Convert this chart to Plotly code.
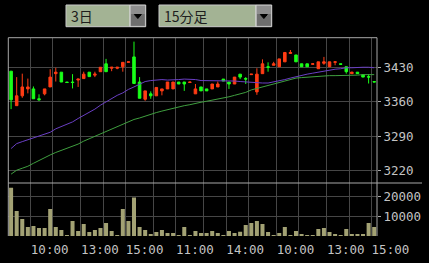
import plotly.graph_objects as go

W, H = 429, 263

# ---- data (15-minute bars, 3 days, 22 bars per day) ----
opens = [3422, 3352, 3372, 3386, 3386, 3366, 3376, 3390, 3417, 3420, 3400, 3400, 3404, 3407, 3420, 3414, 3421, 3437, 3428, 3428, 3431, 3440,
         3451, 3400, 3365, 3376, 3372, 3382, 3386, 3386, 3400, 3400, 3399, 3376, 3390, 3386, 3386, 3390, 3406, 3400, 3396, 3416, 3407, 3415,
         3380, 3417, 3431, 3434, 3431, 3441, 3458, 3455, 3437, 3437, 3436, 3427, 3438, 3431, 3440, 3437, 3431, 3417, 3420, 3415, 3411, 3401]
highs = [3422, 3410, 3417, 3407, 3391, 3375, 3386, 3426, 3429, 3420, 3400, 3416, 3406, 3421, 3420, 3421, 3430, 3447, 3430, 3430, 3440, 3441,
         3482, 3410, 3382, 3381, 3389, 3386, 3400, 3400, 3400, 3400, 3400, 3396, 3390, 3386, 3396, 3401, 3406, 3400, 3410, 3416, 3410, 3416,
         3428, 3446, 3440, 3441, 3447, 3461, 3465, 3455, 3437, 3437, 3437, 3441, 3451, 3441, 3441, 3437, 3431, 3421, 3420, 3415, 3416, 3401]
lows = [3345, 3352, 3368, 3377, 3366, 3362, 3373, 3390, 3401, 3400, 3399, 3387, 3390, 3407, 3411, 3410, 3421, 3421, 3422, 3426, 3421, 3440,
        3397, 3367, 3362, 3366, 3372, 3373, 3386, 3386, 3396, 3382, 3399, 3376, 3382, 3382, 3386, 3390, 3402, 3386, 3396, 3406, 3396, 3415,
        3374, 3417, 3421, 3434, 3431, 3441, 3458, 3441, 3431, 3431, 3436, 3427, 3435, 3431, 3434, 3436, 3417, 3417, 3417, 3410, 3397, 3400]
closes = [3364, 3372, 3390, 3390, 3366, 3364, 3386, 3410, 3420, 3400, 3399, 3399, 3406, 3416, 3411, 3416, 3430, 3421, 3430, 3430, 3440, 3441,
          3397, 3367, 3382, 3372, 3389, 3386, 3400, 3400, 3396, 3396, 3400, 3386, 3382, 3382, 3396, 3396, 3402, 3396, 3410, 3410, 3406, 3416,
          3416, 3437, 3430, 3437, 3447, 3460, 3460, 3441, 3431, 3431, 3437, 3441, 3441, 3441, 3441, 3436, 3421, 3420, 3417, 3410, 3410, 3400]
ma_short = [3265, 3275, 3279, 3283, 3286, 3290, 3294, 3298, 3305, 3310, 3314, 3319, 3326, 3332, 3338, 3345, 3353, 3360, 3367, 3373, 3378, 3385,
            3390, 3396, 3401, 3403, 3404, 3405, 3404, 3404, 3405, 3406, 3406, 3405, 3403, 3403, 3402, 3402, 3402, 3402, 3402, 3401, 3400, 3399,
            3398, 3398, 3398, 3400, 3402, 3405, 3408, 3411, 3414, 3416, 3418, 3420, 3423, 3424, 3426, 3427, 3429, 3429, 3430, 3430, 3430, 3429]
ma_long = [3213, 3221, 3225, 3229, 3235, 3241, 3246, 3252, 3257, 3261, 3266, 3270, 3274, 3280, 3285, 3290, 3294, 3299, 3304, 3309, 3314, 3319,
           3324, 3327, 3331, 3334, 3338, 3341, 3344, 3347, 3350, 3352, 3354, 3357, 3359, 3361, 3363, 3365, 3367, 3370, 3373, 3376, 3379, 3384,
           3387, 3390, 3393, 3396, 3400, 3403, 3406, 3408, 3409, 3410, 3411, 3412, 3413, 3413, 3413, 3413, 3413, 3414, 3414, 3415, 3415, 3415]
volumes = [24500, 12700, 8600, 4600, 5100, 4100, 4100, 13700, 4600, 3000, 300, 7600, 2500, 6100, 2000, 3000, 4100, 6600, 2500, 500, 13700, 7600,
           19500, 4600, 3000, 1000, 2000, 3000, 1500, 1500, 200, 4600, 200, 2500, 1500, 1500, 2500, 1500, 500, 2500, 1500, 2200, 5600, 6600,
           7600, 6100, 2000, 500, 1500, 4600, 500, 2500, 1000, 500, 200, 3600, 4100, 2000, 1000, 500, 3600, 1000, 1000, 1000, 6600, 4600]
bar_index = list(range(len(opens)))

grid_slots = [4, 8, 13, 17, 21, 26, 30, 35, 39, 43, 48, 52, 57, 61, 65]
grid_text = ["10:00", "", "13:00", "", "15:00", "", "11:00", "", "14:00", "", "10:00", "", "13:00", "", "15:00"]
price_ticks = [3220, 3290, 3360, 3430]
vol_ticks = [10000, 20000]
period_label = "3日"
interval_label = "15分足"

# ---- helpers for pixel -> paper ----
def px(x):
    return x / W

def py(y):
    return 1 - y / H

X0, X1 = 8.3, 377.0
P_TOP, P_BOT = 37.7, 183.0
V_BOT = 236.0

RED = "#ff3c14"
GREEN = "#19ff19"
GRID = "#464646"
FRAME = "#a8a8a8"
TXT = "#c4c4c4"
FONT = dict(family="DejaVu Sans Mono", size=12.5, color=TXT)

fig = go.Figure()

fig.add_trace(go.Scatter(x=bar_index, y=ma_long, mode="lines", line=dict(color="#3f9f3f", width=1),
                         xaxis="x", yaxis="y", hoverinfo="skip"))
fig.add_trace(go.Scatter(x=bar_index, y=ma_short, mode="lines", line=dict(color="#6a3fc4", width=1),
                         xaxis="x", yaxis="y", hoverinfo="skip"))
fig.add_trace(go.Candlestick(
    x=bar_index, open=opens, high=highs, low=lows, close=closes,
    increasing=dict(line=dict(color=RED, width=1), fillcolor=RED),
    decreasing=dict(line=dict(color=GREEN, width=1), fillcolor=GREEN),
    whiskerwidth=0, xaxis="x", yaxis="y"))
fig.add_trace(go.Bar(x=bar_index, y=volumes, width=0.72, marker=dict(color="#a3a274", line=dict(width=0)),
                     xaxis="x2", yaxis="y2"))

grid_vals = [s - 0.5 for s in grid_slots]
vtop = (V_BOT - P_BOT) / 19.7 * 10000

fig.update_layout(
    width=W, height=H, autosize=False,
    margin=dict(l=0, r=0, t=0, b=0, pad=0),
    paper_bgcolor="black", plot_bgcolor="black",
    showlegend=False, boxgap=0.35,
    xaxis=dict(domain=[px(X0), px(X1)], range=[-0.5, len(opens) - 0.5], anchor="y", automargin=False,
               tickvals=grid_vals, showticklabels=False, showgrid=True, gridcolor=GRID, gridwidth=1,
               zeroline=False, showline=False, ticks="", rangeslider=dict(visible=False), fixedrange=True),
    xaxis2=dict(domain=[px(X0), px(X1)], range=[-0.5, len(opens) - 0.5], anchor="y2", matches="x", automargin=False,
                tickvals=grid_vals, ticktext=grid_text, tickfont=FONT, ticklabelshift=19, ticklabelstandoff=4,
                showgrid=True, gridcolor=GRID, gridwidth=1, zeroline=False, showline=False, ticks=""),
    yaxis=dict(domain=[py(P_BOT), py(P_TOP)], range=[3195, 3490], anchor="x", side="right", automargin=False,
               tickvals=price_ticks, ticktext=[str(v) for v in price_ticks], tickfont=FONT,
               showgrid=True, gridcolor=GRID, gridwidth=1, zeroline=False, showline=False,
               ticks="outside", ticklen=3, tickcolor=FRAME),
    yaxis2=dict(domain=[py(V_BOT), py(P_BOT)], range=[0, vtop], anchor="x2", side="right", automargin=False,
                tickvals=vol_ticks, ticktext=[str(v) for v in vol_ticks], tickfont=FONT,
                showgrid=True, gridcolor=GRID, gridwidth=1, zeroline=False, showline=False,
                ticks="outside", ticklen=3, tickcolor=FRAME),
)

shapes = []
def line(x0, y0, x1, y1, color=FRAME, w=1):
    shapes.append(dict(type="line", xref="paper", yref="paper", x0=px(x0), y0=py(y0), x1=px(x1), y1=py(y1),
                       line=dict(color=color, width=w)))

# frames
line(X0, P_TOP, X1, P_TOP)
line(X0, P_TOP, X0, V_BOT)
line(X1, P_TOP, X1, V_BOT)
line(X0, P_BOT, 422, P_BOT)

# dropdown boxes
def dropdown(xa, xb, xbtn, label):
    y0, y1 = 5, 26.7
    shapes.append(dict(type="rect", xref="paper", yref="paper", x0=px(xa), x1=px(xbtn), y0=py(y1), y1=py(y0),
                       fillcolor="#a3b394", line=dict(color="#c8c8c8", width=1)))
    shapes.append(dict(type="rect", xref="paper", yref="paper", x0=px(xbtn), x1=px(xb), y0=py(y1), y1=py(y0),
                       fillcolor="#8e8e8e", line=dict(color="#d8d8d8", width=1)))
    shapes.append(dict(type="rect", xref="paper", yref="paper", x0=px(xbtn + 1), x1=px(xb - 1), y0=py(y1 - 1), y1=py(y0 + 9),
                       fillcolor="#6e6e6e", line=dict(width=0)))
    cx, cy = (xbtn + xb) / 2, 16.5
    path = "M {} {} L {} {} L {} {} Z".format(px(cx - 3.5), py(cy - 2), px(cx + 3.5), py(cy - 2), px(cx), py(cy + 2))
    shapes.append(dict(type="path", xref="paper", yref="paper", path=path, fillcolor="black", line=dict(color="black", width=1)))
    return dict(x=px(xa + 3), y=py(16), xref="paper", yref="paper", text=label, showarrow=False,
                xanchor="left", yanchor="middle",
                font=dict(family="Noto Sans CJK JP", size=14, color="#1e1e1e"))

ann = [dropdown(66, 145.7, 130, period_label), dropdown(159, 271.7, 256, interval_label)]
fig.update_layout(shapes=shapes, annotations=ann)

fig.write_html("out.html")
